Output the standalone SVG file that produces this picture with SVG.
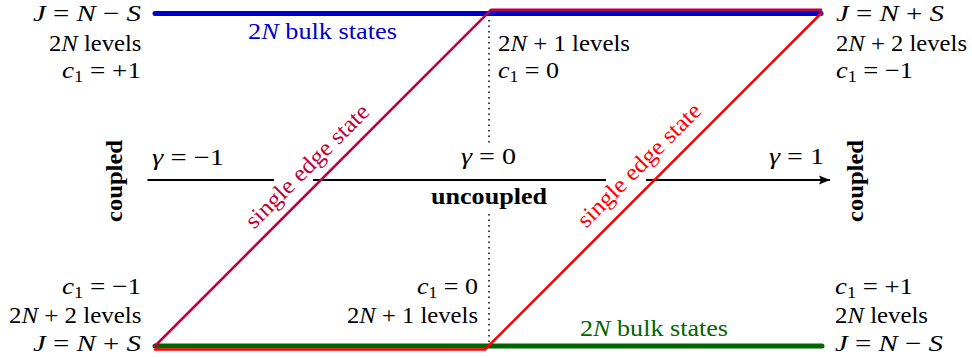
<svg xmlns="http://www.w3.org/2000/svg" width="972" height="358" viewBox="0 0 972 358">
<defs>
<style>
text{font-family:"Liberation Serif","Times New Roman",serif;font-size:23.5px;fill:#000}
.i{font-style:italic}
.b{font-weight:bold}
.sub{font-size:16px}
.band{fill:none;stroke-linecap:round;stroke-linejoin:round}
</style>
<marker id="ah" markerUnits="userSpaceOnUse" markerWidth="12" markerHeight="10" refX="11" refY="5" orient="auto">
<path d="M0,0.5 L11,5 L0,9.5 L2,5 Z" fill="#000"/>
</marker>
</defs>
<rect width="972" height="358" fill="#fff"/>
<g id="connectors">
<path id="dotted-top" d="M489,20 V146" stroke="#000" stroke-width="1.5" stroke-dasharray="1.5 4" fill="none"/>
<path id="dotted-bottom" d="M489,214 V342" stroke="#000" stroke-width="1.5" stroke-dasharray="1.5 4" fill="none"/>
<g id="gamma-axis" stroke="#000" stroke-width="1.8" fill="none">
<path d="M147.5,180 H274"/>
<path d="M313,180 H606"/>
<path d="M646,180 H830" marker-end="url(#ah)"/>
</g>
<path id="green-band" class="band" d="M155,346 H822" stroke="#006600" stroke-width="5"/>
<path id="blue-band" class="band" d="M155,13.5 H821" stroke="#0000cc" stroke-width="5"/>
<path id="purple-edge" class="band" d="M155,346 L491,9.8 H821" stroke="#bf0040" stroke-width="2.6"/>
<path id="red-edge" class="band" d="M155,349.5 H485 L821,13.5" stroke="#ff0000" stroke-width="2.6"/>
</g>
<g id="top-left">
<text x="33" y="20.5" textLength="108" lengthAdjust="spacingAndGlyphs"><tspan class="i">J</tspan> = <tspan class="i">N</tspan> − <tspan class="i">S</tspan></text>
<text x="49" y="50.5" textLength="92.5" lengthAdjust="spacingAndGlyphs">2<tspan class="i">N</tspan> levels</text>
<text x="62" y="77.5" textLength="79" lengthAdjust="spacingAndGlyphs"><tspan class="i">c</tspan><tspan class="sub" dy="4">1</tspan><tspan dy="-4"> = +1</tspan></text>
</g>
<g id="top-middle">
<text x="498" y="50.5" textLength="132" lengthAdjust="spacingAndGlyphs">2<tspan class="i">N</tspan> + 1 levels</text>
<text x="498" y="77.5" textLength="61" lengthAdjust="spacingAndGlyphs"><tspan class="i">c</tspan><tspan class="sub" dy="4">1</tspan><tspan dy="-4"> = 0</tspan></text>
</g>
<g id="top-right">
<text x="836" y="20.5" textLength="108" lengthAdjust="spacingAndGlyphs"><tspan class="i">J</tspan> = <tspan class="i">N</tspan> + <tspan class="i">S</tspan></text>
<text x="836" y="50.5" textLength="131" lengthAdjust="spacingAndGlyphs">2<tspan class="i">N</tspan> + 2 levels</text>
<text x="836" y="77.5" textLength="77" lengthAdjust="spacingAndGlyphs"><tspan class="i">c</tspan><tspan class="sub" dy="4">1</tspan><tspan dy="-4"> = −1</tspan></text>
</g>
<g id="blue-label">
<text x="248" y="39" textLength="149" lengthAdjust="spacingAndGlyphs" style="fill:#0000cc">2<tspan class="i">N</tspan> bulk states</text>
</g>
<g id="green-label">
<text x="580" y="336" textLength="148" lengthAdjust="spacingAndGlyphs" style="fill:#006600">2<tspan class="i">N</tspan> bulk states</text>
</g>
<g id="gamma-labels">
<text x="152" y="165" textLength="72" lengthAdjust="spacingAndGlyphs"><tspan class="i">γ</tspan> = −1</text>
<text x="461" y="164" textLength="55" lengthAdjust="spacingAndGlyphs"><tspan class="i">γ</tspan> = 0</text>
<text x="769" y="164" textLength="55" lengthAdjust="spacingAndGlyphs"><tspan class="i">γ</tspan> = 1</text>
</g>
<g id="uncoupled-label">
<text class="b" x="431" y="204" textLength="116" lengthAdjust="spacingAndGlyphs">uncoupled</text>
</g>
<g id="coupled-left">
<text class="b" transform="translate(122,181) rotate(-90)" text-anchor="middle" textLength="82" lengthAdjust="spacingAndGlyphs">coupled</text>
</g>
<g id="coupled-right">
<text class="b" transform="translate(863,181) rotate(-90)" text-anchor="middle" textLength="82" lengthAdjust="spacingAndGlyphs">coupled</text>
</g>
<g id="purple-edge-label">
<text transform="translate(312.5,171.5) rotate(-45)" text-anchor="middle" textLength="165" lengthAdjust="spacingAndGlyphs" style="fill:#bf0040">single edge state</text>
</g>
<g id="red-edge-label">
<text transform="translate(644.5,170.5) rotate(-45)" text-anchor="middle" textLength="165" lengthAdjust="spacingAndGlyphs" style="fill:#ff0000">single edge state</text>
</g>
<g id="bottom-left">
<text x="62" y="294" textLength="79" lengthAdjust="spacingAndGlyphs"><tspan class="i">c</tspan><tspan class="sub" dy="4">1</tspan><tspan dy="-4"> = −1</tspan></text>
<text x="9" y="323" textLength="132.5" lengthAdjust="spacingAndGlyphs">2<tspan class="i">N</tspan> + 2 levels</text>
<text x="33" y="351" textLength="108" lengthAdjust="spacingAndGlyphs"><tspan class="i">J</tspan> = <tspan class="i">N</tspan> + <tspan class="i">S</tspan></text>
</g>
<g id="bottom-middle">
<text x="417" y="294" textLength="61" lengthAdjust="spacingAndGlyphs"><tspan class="i">c</tspan><tspan class="sub" dy="4">1</tspan><tspan dy="-4"> = 0</tspan></text>
<text x="347" y="323" textLength="131" lengthAdjust="spacingAndGlyphs">2<tspan class="i">N</tspan> + 1 levels</text>
</g>
<g id="bottom-right">
<text x="835" y="294" textLength="78" lengthAdjust="spacingAndGlyphs"><tspan class="i">c</tspan><tspan class="sub" dy="4">1</tspan><tspan dy="-4"> = +1</tspan></text>
<text x="835" y="323" textLength="93" lengthAdjust="spacingAndGlyphs">2<tspan class="i">N</tspan> levels</text>
<text x="835" y="351" textLength="108" lengthAdjust="spacingAndGlyphs"><tspan class="i">J</tspan> = <tspan class="i">N</tspan> − <tspan class="i">S</tspan></text>
</g>
</svg>
